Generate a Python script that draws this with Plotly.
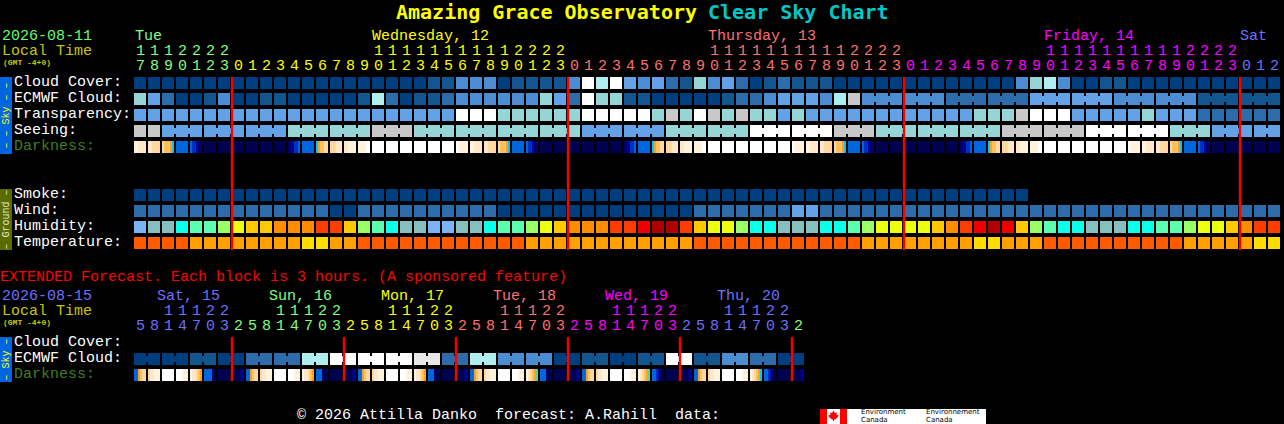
import plotly.graph_objects as go

# hours over the columns of the main chart and of the extended one
main_hours = [17,18,19,20,21,22,23,
              0,1,2,3,4,5,6,7,8,9,10,11,12,13,14,15,16,17,18,19,20,21,22,23,
              0,1,2,3,4,5,6,7,8,9,10,11,12,13,14,15,16,17,18,19,20,21,22,23,
              0,1,2,3,4,5,6,7,8,9,10,11,12,13,14,15,16,17,18,19,20,21,22,23,
              0,1,2]
ext_hours = [5,8,11,14,17,20,23,
             2,5,8,11,14,17,20,23,
             2,5,8,11,14,17,20,23,
             2,5,8,11,14,17,20,23,
             2,5,8,11,14,17,20,23,
             2,5,8,11,14,17,20,23,
             2]

main_days = ["Tue", "Wednesday, 12", "Thursday, 13", "Friday, 14", "Sat"]
ext_days = ["Sat, 15", "Sun, 16", "Mon, 17", "Tue, 18", "Wed, 19", "Thu, 20"]
main_day_colors = ["#80FF80", "#FFFF00", "#FF7070", "#FF00FF", "#7070FF"]
ext_day_colors = ["#7070FF", "#80FF80", "#FFFF00", "#FF7070", "#FF00FF", "#7070FF", "#80FF80"]

# sky rows, index into sky_colors
sky_colors = ["#003F7F", "#13558F", "#2C6CAB", "#4C8CD2", "#63A2E6", "#95D5D5",
              "#AEEEEE", "#C8C8C8", "#FFFFFF", "#E8E8E8"]
cloud = [0,0,0,0,0,0,0,0,0,0,0,0,0,0,0,0,0,0,0,0,0,
         1,1,3,3,3,0,1,1,1,1,3,8,6,8,4,3,4,2,1,5,3,4,2,0,1,2,1,1,1,0,0,
         0,0,0,0,0,0,0,0,0,0,0,3,5,6,3,0,0,1,1,
         0,0,0,0,0,0,0,0,0,0,0]
ecmwf = [5,4,2,0,0,1,3,0,0,1,1,0,0,0,0,0,1,6,2,0,1,
         1,2,3,3,3,3,3,3,5,4,2,8,5,5,1,1,0,0,0,0,0,1,2,2,3,4,4,4,3,6,7,
         3,3,3,3,3,3,2,2,2,2,2,2,4,4,4,4,4,4,3,3,3,3,3,3,1,1,1,1,1,1]
transparency = [4,4,4,4,4,4,4,4,4,4,4,4,4,4,4,4,4,4,4,4,4,4,4,
                8,8,8,5,5,5,5,5,5,8,8,8,8,8,5,7,5,8,7,5,7,5,5,4,5,4,4,4,4,
                4,4,4,4,4,4,4,4,5,5,5,7,8,8,8,4,4,4,4,4,5,4,4,4,2,2,2,2,2,2]
seeing = [7,7,4,4,4,4,4,4,4,4,4,5,5,5,5,5,5,7,7,7,
          5,5,5,5,5,5,5,5,5,5,5,5,4,4,4,4,4,4,5,5,5,5,5,5,8,8,8,8,8,8,7,7,7,
          5,5,5,5,5,5,5,5,5,7,7,7,7,7,7,8,8,8,8,8,8,5,5,5,4,4,4,4,4]
smoke = [0,0,0,0,0,0,0,0,0,0,0,0,0,0,0,0,0,0,0,0,0,0,0,0,0,0,0,0,0,0,0,0,
         0,0,0,0,0,0,0,0,0,0,0,0,0,0,0,0,0,0,0,0,0,0,0,0,0,0,0,0,0,0,0,0,
         None,None,None,None,None,None,None,None,None,None,None,None,None,None,None,None,None,None]
wind = [2,2,2,2,2,2,2,2,2,2,2,2,2,2,0,0,2,2,2,2,2,2,2,2,2,2,
        0,0,0,0,0,0,0,0,0,0,0,0,0,0,2,2,2,2,2,2,2,4,4,2,2,2,
        2,2,2,2,2,2,2,2,2,2,2,2,2,2,2,2,2,2,2,2,2,2,2,2,2,2,2,2,2,2]
ext_ecmwf = [0,0,0,0,1,1,0,0,2,2,2,2,6,6,8,8,8,8,8,8,9,9,2,2,
             6,6,3,3,3,3,0,0,1,1,0,0,1,1,8,8,1,1,3,3,2,2,0,0]

humidity_colors = ["#7AB4F4", "#85BFBF", "#0CFFE8", "#5CFFB0", "#98FF66", "#ECFF10",
                   "#FFC800", "#FF8C00", "#FF3C00", "#EE0000", "#B00000"]
humidity = [0,1,1,2,3,3,4,5,6,6,7,7,7,8,8,6,4,3,2,1,1,
            0,0,1,1,2,3,3,4,5,6,7,7,7,8,8,9,10,10,8,6,5,5,4,2,2,1,1,1,2,2,3,
            4,5,5,5,5,6,7,8,9,10,9,6,4,3,2,2,1,1,1,2,2,3,3,4,5,5,6,7,8,8]
temp_colors = ["#FF5A00", "#FFA000", "#FFDC00"]
temperature = [0,0,0,0,1,1,1,1,1,1,1,1,2,2,1,1,0,0,0,0,0,0,0,0,0,0,0,0,
               1,1,1,1,1,1,1,1,1,1,1,1,0,0,0,0,0,0,0,0,0,0,0,0,
               1,1,1,1,1,1,1,1,2,2,1,1,1,0,0,0,0,0,0,0,0,0,0,1,1,1,1,1,2,2]

# darkness: a plain number is one colour, a list is the six steps across a twilight block
dark_colors = ["#000050", "#000070", "#0000A0", "#0030C0", "#0066E0", "#00C8FF", "#FFA020",
               "#FFC060", "#FFD8A0", "#FFE8C8", "#FFF3E0", "#FFFFFF", "#60D0A0"]
darkness = [[10,10,9,9,9,9],[9,9,8,8,8,8],[8,7,7,7,6,5],4,[4,3,3,2,1,1],0,0,0,0,0,0,
            [1,1,2,3,3,4],4,[5,6,7,7,8,8],[8,8,8,9,9,9],[9,9,10,10,10,10],[10,10,10,10,11,11],
            11,11,11,11,11,11,[11,10,10,10,10,10],[10,10,9,9,9,9],[9,9,8,8,8,8],[8,7,7,7,6,5],
            4,[4,3,3,2,1,1],0,0,0,0,0,0,
            [1,1,2,3,3,4],4,[5,6,7,7,8,8],[8,8,8,9,9,9],[9,9,10,10,10,10],[10,10,10,10,11,11],
            11,11,11,11,11,11,[11,10,10,10,10,10],[10,10,9,9,9,9],[9,9,8,8,8,8],[8,7,7,7,6,5],
            4,[4,3,3,2,1,1],0,0,0,0,0,0,
            [1,1,2,3,3,4],4,[5,6,7,7,8,8],[8,8,8,9,9,9],[9,9,10,10,10,10],[10,10,10,10,11,11],
            11,11,11,11,11,11,[11,10,10,10,10,10],[10,10,9,9,9,9],[9,9,8,8,8,8],[8,7,7,7,6,5],
            4,[4,3,3,2,1,1],0,0,0,0,0]
ext_darkness = [[4,4,6,7,8,8],[8,9,9,10,10,10],11,[11,11,11,10,10,10],[10,9,9,8,7,6],[4,4,4,4,1,0],0,[0,0,0,0,1,2],
                [4,4,6,7,8,8],[8,9,9,10,10,10],11,[11,11,11,10,10,10],[10,9,9,8,7,6],[4,4,4,1,0,0],0,[0,0,0,0,1,2],
                [4,4,6,7,8,8],[8,9,9,10,10,10],11,[11,11,11,10,10,10],[10,9,9,8,7,6],[4,4,4,1,0,0],0,[0,0,0,0,1,2],
                [4,4,6,7,8,8],[8,9,9,10,10,10],11,[11,11,11,10,10,10],[10,9,8,7,6,12],[4,4,4,1,0,0],0,[0,0,0,0,1,2],
                [4,4,6,7,8,8],[8,9,9,10,10,10],11,[11,11,11,10,10,10],[10,9,8,7,6,12],[4,4,3,2,1,0],0,[0,0,0,0,1,2],
                [4,4,6,7,8,8],[8,9,9,10,10,10],11,[11,11,11,10,10,10],[10,9,8,7,6,5],[4,4,3,2,1,0],0,[0,0,0,0,1,2]]

W, H = 1284, 424
LEFT = 134     # px of column 0
STEP = 14      # px per column
BLOCK = 12     # px of a block


def col(px):
    return (px - LEFT) / STEP


def step_scale(colors):
    n = len(colors)
    scale = []
    for k, c in enumerate(colors):
        scale.append([k / n, c])
        scale.append([(k + 1) / n, c])
    return scale


def add_cells(fig, edges, z, y0, y1, colors):
    fig.add_trace(go.Heatmap(x=edges, y=[y0, y1], z=[z], zmin=-0.5, zmax=len(colors) - 0.5,
                             colorscale=step_scale(colors), showscale=False, hoverinfo="skip"))


def add_row(fig, values, y0, colors, merge=(), size=3):
    # blocks with a black gap, then a thin strip across the gaps of merged groups
    edges, z, strip = [0], [], []
    for i, v in enumerate(values):
        edges += [i + BLOCK / STEP, i + 1]
        z += [v, None]
        strip += [None, None]
        if i + 1 < len(values) and i + 1 not in merge and merge and i >= merge[0]:
            strip[-1] = v
    edges = edges[:-1]
    add_cells(fig, edges, z[:-1], y0, y0 + BLOCK, colors)
    if merge:
        add_cells(fig, edges, strip[:-1], y0 + size, y0 + BLOCK - size, colors)


def add_dark_row(fig, values, y0):
    edges, z = [0], []
    for i, v in enumerate(values):
        steps = v if isinstance(v, list) else [v] * 6
        for k in range(6):
            edges.append(i + (k + 1) * 2 / STEP)
            z.append(steps[k])
        edges.append(i + 1)
        z.append(None)
    add_cells(fig, edges[:-1], z[:-1], y0, y0 + BLOCK, dark_colors)


MONO = "Liberation Mono"
fig = go.Figure()


def label(text, px, py, color, size=15, anchor="left", font=MONO, angle=0):
    # the text sat a pixel right of and above the reference
    fig.add_annotation(x=col(px), y=py, xref="x", yref="y", text=text, showarrow=False, xanchor=anchor,
                       yanchor="middle", borderpad=0, textangle=angle,
                       xshift=-1 if anchor == "left" else 0, yshift=-1 if size == 15 else 0,
                       font=dict(family=font, size=size, color=color))


def hour_labels(hours, colors, start_color, y_tens, y_ones):
    c = start_color
    for i, h in enumerate(hours):
        if h < 3 and i and hours[i - 1] > h:
            c += 1
        label(str(h % 10), LEFT + STEP * i + BLOCK / 2, y_ones, colors[c], anchor="center")
        if h >= 10:
            label(str(h // 10), LEFT + STEP * i + BLOCK / 2, y_tens, colors[c], anchor="center")


# main chart
add_row(fig, cloud, 77, sky_colors)
add_row(fig, ecmwf, 93, sky_colors, merge=list(range(52, 82, 3)))
add_row(fig, transparency, 109, sky_colors)
add_row(fig, seeing, 125, sky_colors, merge=list(range(2, 82, 3)))
add_dark_row(fig, darkness, 141)
add_row(fig, smoke, 189, sky_colors)
add_row(fig, wind, 205, sky_colors)
add_row(fig, humidity, 221, humidity_colors)
add_row(fig, temperature, 237, temp_colors)

# extended chart
add_row(fig, ext_ecmwf, 353, sky_colors, merge=list(range(0, 48, 2)))
add_dark_row(fig, ext_darkness, 369)

shapes = []
for hours, y0, y1 in [(main_hours, 77, 250), (ext_hours, 337, 381)]:
    for i, h in enumerate(hours):
        if i and hours[i - 1] > h and (h == 0 or h == 2):
            shapes.append(dict(type="rect", x0=i - 1.2 / STEP, x1=i + 1.2 / STEP, y0=y0, y1=y1, xref="x", yref="y",
                               fillcolor="#FF0000", line=dict(width=0)))


def rect(x0, x1, y0, y1, color):
    shapes.append(dict(type="rect", x0=col(x0), x1=col(x1), y0=y0, y1=y1, xref="x", yref="y",
                       fillcolor=color, line=dict(width=0), layer="below"))


rect(0, 12, 77, 154, "#0066E0")
rect(0, 12, 189, 250, "#5A6B00")
rect(0, 12, 337, 382, "#0066E0")

# environment canada logo
rect(820, 986, 409, 424, "#FFFFFF")
rect(820, 827, 409, 424, "#FF0000")
rect(840, 847, 409, 424, "#FF0000")
leaf = [(833.5, 410.5), (835, 413), (837, 412.5), (836.5, 415), (838.5, 415), (838, 417), (835, 419.5),
        (834, 419.5), (834, 421), (833, 421), (833, 419.5), (832, 419.5), (829, 417), (828.5, 415),
        (830.5, 415), (830, 412.5), (832, 413)]
shapes.append(dict(type="path", xref="x", yref="y", fillcolor="#FF0000", line=dict(width=0),
                   path="M " + " L ".join(f"{col(x):.4f},{y}" for x, y in leaf) + " Z"))

label("<b>Amazing Grace Observatory</b>", 396, 12, "#FFFF00", size=20, font="DejaVu Sans Mono, monospace")
label("<b>Clear Sky Chart</b>", 708, 12, "#00C8C8", size=20, font="DejaVu Sans Mono, monospace")

label("2026-08-11", 2, 35, "#66FF66")
label("Local Time", 2, 50, "#C8C800")
label("<b>(GMT -4+0)</b>", 3, 62, "#C8C800", size=8)
for text, px, c in zip(main_days, [135, 372, 708, 1044, 1240], main_day_colors):
    label(text, px, 35, c)
hour_labels(main_hours, main_day_colors, 0, 50, 65)

for text, py, c in [("Cloud Cover:", 81, "#FFFFFF"), ("ECMWF Cloud:", 97, "#FFFFFF"),
                    ("Transparency:", 113, "#FFFFFF"), ("Seeing:", 129, "#FFFFFF"),
                    ("Darkness:", 145, "#3F7F1F"), ("Smoke:", 193, "#FFFFFF"), ("Wind:", 209, "#FFFFFF"),
                    ("Humidity:", 225, "#FFFFFF"), ("Temperature:", 241, "#FFFFFF"),
                    ("Cloud Cover:", 341, "#FFFFFF"), ("ECMWF Cloud:", 357, "#FFFFFF"),
                    ("Darkness:", 373, "#3F7F1F")]:
    label(text, 14, py, c)

label("\u2013 \u2013 Sky \u2013 \u2013", 6, 115.5, "#FFFF00", size=10, anchor="center", angle=-90)
label("\u2013 Ground \u2013", 6, 219.5, "#E8E8D0", size=10, anchor="center", angle=-90)
label("\u2013 Sky \u2013", 6, 359.5, "#FFFF00", size=10, anchor="center", angle=-90)

label("EXTENDED Forecast. Each block is 3 hours. (A sponsored feature)", 0, 276, "#FF0000")
label("2026-08-15", 2, 295, "#7070FF")
label("Local Time", 2, 310, "#C8C800")
label("<b>(GMT -4+0)</b>", 3, 322, "#C8C800", size=8)
for text, px, c in zip(ext_days, [157, 269, 381, 493, 605, 717], ext_day_colors):
    label(text, px, 295, c)
hour_labels(ext_hours, ext_day_colors, 0, 310, 325)

# kept just inside the bottom edge
label("© 2026 Attilla Danko\u00a0\u00a0forecast: A.Rahill\u00a0\u00a0data:", 297, 414.5, "#FFFFFF")
label("Environment", 861, 412, "#000000", size=7, font="DejaVu Sans")
label("Canada", 861, 420, "#000000", size=7, font="DejaVu Sans")
label("Environnement", 926, 412, "#000000", size=7, font="DejaVu Sans")
label("Canada", 926, 420, "#000000", size=7, font="DejaVu Sans")

fig.update_layout(width=W, height=H, autosize=False, margin=dict(l=0, r=0, t=0, b=0),
                  paper_bgcolor="#000000", plot_bgcolor="#000000", shapes=shapes, showlegend=False)
fig.update_xaxes(range=[col(0), col(W)], visible=False, fixedrange=True)
fig.update_yaxes(range=[H, 0], visible=False, fixedrange=True)

fig.write_html("out.html", config=dict(displayModeBar=False),
               post_script="document.body.style.margin='0';document.body.style.overflow='hidden';")
